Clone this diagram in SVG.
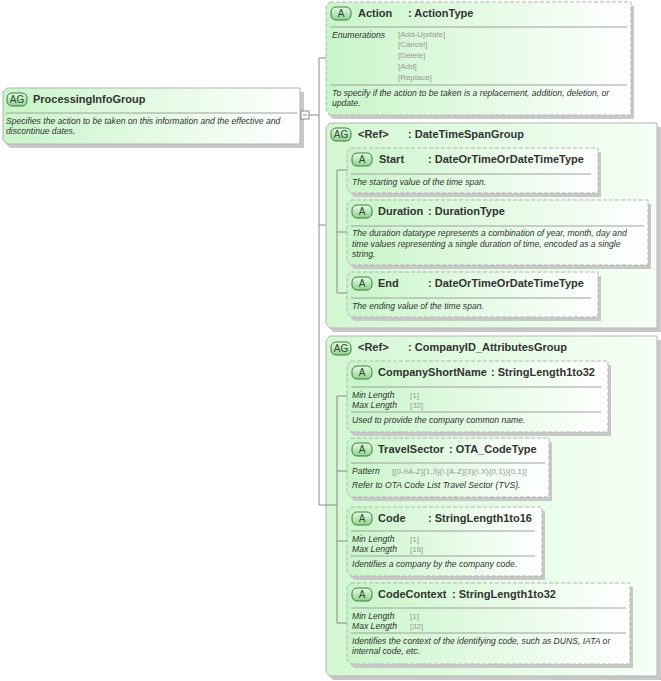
<svg xmlns="http://www.w3.org/2000/svg" width="661" height="681" viewBox="0 0 661 681">
<defs>
<linearGradient id="g" x1="0" y1="0" x2="1" y2="0"><stop offset="0" stop-color="#c8f5c8"/><stop offset="1" stop-color="#ffffff"/></linearGradient>
<linearGradient id="gg" x1="0" y1="0" x2="1" y2="0"><stop offset="0" stop-color="#d2f7d2"/><stop offset="1" stop-color="#f6fff6"/></linearGradient>
<linearGradient id="bd" x1="0" y1="0" x2="0" y2="1"><stop offset="0" stop-color="#e8fbe8"/><stop offset="1" stop-color="#8fd08f"/></linearGradient>
</defs>
<style>
.sh{fill:#c8c8c8}
.box{fill:url(#g);stroke:#b4b4b4;stroke-width:1}
.grp{fill:url(#gg);stroke:#b4b4b4;stroke-width:1}
.opt{stroke-dasharray:4,2}
.sep{stroke:#a0a0a0;stroke-width:1}
.bdg{fill:url(#bd);stroke:#3e7d3e;stroke-width:1}
.bt{font-family:"Liberation Sans",Arial,sans-serif;font-size:10px;fill:#2d4d2d}
.t{font-family:"Liberation Sans",Arial,sans-serif;font-size:11px;font-weight:bold;fill:#333}
.d{font-family:"Liberation Sans",Arial,sans-serif;font-size:8.6px;font-style:italic;fill:#333}
.v{font-family:"Liberation Sans",Arial,sans-serif;font-size:8px;fill:#999}
.c{stroke:#888;stroke-width:1;fill:none}
</style>
<g id="ProcessingInfoGroup">
<path class="sh" d="M10 92H304V148H10L6 144V96Z"/>
<path class="box" d="M7 88H300V144H7L3 140V92Z"/>
<rect class="bdg" x="7" y="93" width="20" height="13" rx="5"/><text class="bt" x="17" y="103" text-anchor="middle">AG</text>
<text class="t" x="33" y="103">ProcessingInfoGroup</text>
<line class="sep" x1="6" y1="113" x2="297" y2="113"/>
<text class="d" x="6" y="124">Specifies the action to be taken on this information and the effective and</text>
<text class="d" x="6" y="134">discontinue dates.</text>
</g>
<g id="Action">
<path class="sh" d="M333 6H634V119H333L329 115V10Z"/>
<path class="box opt" d="M330 2H631V115H330L326 111V6Z"/>
<rect class="bdg" x="331" y="7" width="20" height="13" rx="5"/><text class="bt" x="341" y="17" text-anchor="middle">A</text>
<text class="t" x="358" y="17">Action</text><text class="t" x="408" y="17">: ActionType</text>
<line class="sep" x1="330" y1="27" x2="627" y2="27"/>
<text class="d" x="332" y="38">Enumerations</text>
<text class="v" x="398" y="37">[Add-Update]</text><text class="v" x="398" y="47">[Cancel]</text><text class="v" x="398" y="58">[Delete]</text><text class="v" x="398" y="69">[Add]</text><text class="v" x="398" y="80">[Replace]</text>
<line class="sep" x1="330" y1="85" x2="627" y2="85"/>
<text class="d" x="332" y="96">To specify if the action to be taken is a replacement, addition, deletion, or</text>
<text class="d" x="332" y="106">update.</text>
</g>
<g id="DateTimeSpanGroup">
<path class="sh" d="M333 127H661V332H333L329 328V131Z"/>
<path class="grp" d="M330 123H657V328H330L326 324V127Z"/>
<rect class="bdg" x="331" y="128" width="20" height="13" rx="5"/><text class="bt" x="341" y="138" text-anchor="middle">AG</text>
<text class="t" x="358" y="138">&lt;Ref&gt;</text><text class="t" x="408" y="138">: DateTimeSpanGroup</text>
</g>
<g id="Start">
<path class="sh" d="M354 152H601V197H354L350 193V156Z"/>
<path class="box opt" d="M351 148H598V193H351L347 189V152Z"/>
<rect class="bdg" x="352" y="153" width="20" height="13" rx="5"/><text class="bt" x="362" y="163" text-anchor="middle">A</text>
<text class="t" x="379" y="163">Start</text><text class="t" x="428" y="163">: DateOrTimeOrDateTimeType</text>
<line class="sep" x1="351" y1="174" x2="591" y2="174"/>
<text class="d" x="352" y="185">The starting value of the time span.</text>
</g>
<g id="Duration">
<path class="sh" d="M354 204H651V269H354L350 265V208Z"/>
<path class="box opt" d="M351 200H648V265H351L347 261V204Z"/>
<rect class="bdg" x="352" y="205" width="20" height="13" rx="5"/><text class="bt" x="362" y="215" text-anchor="middle">A</text>
<text class="t" x="378" y="215">Duration</text><text class="t" x="428" y="215">: DurationType</text>
<line class="sep" x1="351" y1="226" x2="644" y2="226"/>
<text class="d" x="352" y="236">The duration datatype represents a combination of year, month, day and</text>
<text class="d" x="352" y="247">time values representing a single duration of time, encoded as a single</text>
<text class="d" x="352" y="257">string.</text>
</g>
<g id="End">
<path class="sh" d="M354 276H601V321H354L350 317V280Z"/>
<path class="box opt" d="M351 272H598V317H351L347 313V276Z"/>
<rect class="bdg" x="352" y="277" width="20" height="13" rx="5"/><text class="bt" x="362" y="287" text-anchor="middle">A</text>
<text class="t" x="378" y="287">End</text><text class="t" x="428" y="287">: DateOrTimeOrDateTimeType</text>
<line class="sep" x1="351" y1="298" x2="591" y2="298"/>
<text class="d" x="352" y="309">The ending value of the time span.</text>
</g>
<g id="CompanyID_AttributesGroup">
<path class="sh" d="M333 340H661V680H333L329 676V344Z"/>
<path class="grp" d="M330 336H657V676H330L326 672V340Z"/>
<rect class="bdg" x="331" y="342" width="20" height="13" rx="5"/><text class="bt" x="341" y="352" text-anchor="middle">AG</text>
<text class="t" x="358" y="351">&lt;Ref&gt;</text><text class="t" x="408" y="351">: CompanyID_AttributesGroup</text>
</g>
<g id="CompanyShortName">
<path class="sh" d="M354 365H611V436H354L350 432V369Z"/>
<path class="box opt" d="M351 361H608V432H351L347 428V365Z"/>
<rect class="bdg" x="352" y="366" width="20" height="13" rx="5"/><text class="bt" x="362" y="376" text-anchor="middle">A</text>
<text class="t" x="378" y="376">CompanyShortName</text><text class="t" x="491" y="376">: StringLength1to32</text>
<line class="sep" x1="351" y1="387" x2="601" y2="387"/>
<text class="d" x="352" y="398">Min Length</text><text class="v" x="410" y="398">[1]</text>
<text class="d" x="352" y="408">Max Length</text><text class="v" x="410" y="408">[32]</text>
<line class="sep" x1="351" y1="412" x2="601" y2="412"/>
<text class="d" x="352" y="423">Used to provide the company common name.</text>
</g>
<g id="TravelSector">
<path class="sh" d="M354 442H552V501H354L350 497V446Z"/>
<path class="box opt" d="M351 438H549V497H351L347 493V442Z"/>
<rect class="bdg" x="352" y="443" width="20" height="13" rx="5"/><text class="bt" x="362" y="453" text-anchor="middle">A</text>
<text class="t" x="378" y="453">TravelSector</text><text class="t" x="449" y="453">: OTA_CodeType</text>
<line class="sep" x1="351" y1="463" x2="545" y2="463"/>
<text class="d" x="352" y="474">Pattern</text><text class="v" x="392" y="474">[[0-9A-Z]{1,3}(\.[A-Z]{3}(\.X){0,1}){0,1}]</text>
<text class="d" x="352" y="488">Refer to OTA Code List Travel Sector (TVS).</text>
</g>
<g id="Code">
<path class="sh" d="M354 511H545V580H354L350 576V515Z"/>
<path class="box opt" d="M351 507H542V576H351L347 572V511Z"/>
<rect class="bdg" x="352" y="512" width="20" height="13" rx="5"/><text class="bt" x="362" y="522" text-anchor="middle">A</text>
<text class="t" x="378" y="522">Code</text><text class="t" x="428" y="522">: StringLength1to16</text>
<line class="sep" x1="351" y1="531" x2="535" y2="531"/>
<text class="d" x="352" y="542">Min Length</text><text class="v" x="410" y="542">[1]</text>
<text class="d" x="352" y="552">Max Length</text><text class="v" x="410" y="552">[16]</text>
<line class="sep" x1="351" y1="556" x2="535" y2="556"/>
<text class="d" x="352" y="567">Identifies a company by the company code.</text>
</g>
<g id="CodeContext">
<path class="sh" d="M354 587H633V668H354L350 664V591Z"/>
<path class="box opt" d="M351 583H630V664H351L347 660V587Z"/>
<rect class="bdg" x="352" y="588" width="20" height="13" rx="5"/><text class="bt" x="362" y="598" text-anchor="middle">A</text>
<text class="t" x="378" y="598">CodeContext</text><text class="t" x="452" y="598">: StringLength1to32</text>
<line class="sep" x1="351" y1="608" x2="626" y2="608"/>
<text class="d" x="352" y="619">Min Length</text><text class="v" x="410" y="619">[1]</text>
<text class="d" x="352" y="629">Max Length</text><text class="v" x="410" y="629">[32]</text>
<line class="sep" x1="351" y1="633" x2="626" y2="633"/>
<text class="d" x="352" y="644">Identifies the context of the identifying code, such as DUNS, IATA or</text>
<text class="d" x="352" y="654">internal code, etc.</text>
</g>
<g id="connectors">
<rect x="301" y="111" width="8" height="8" fill="#fff" stroke="#888"/>
<line x1="303" y1="115" x2="307" y2="115" stroke="#888"/>
<path class="c" d="M309 115H319M319 58V505M319 58H326M319 225H326M319 505H337M337 396V623M337 396H347M337 471H347M337 541H347M337 623H347M337 170V293M337 170H347M337 232H347M337 293H347"/>
</g>
</svg>
